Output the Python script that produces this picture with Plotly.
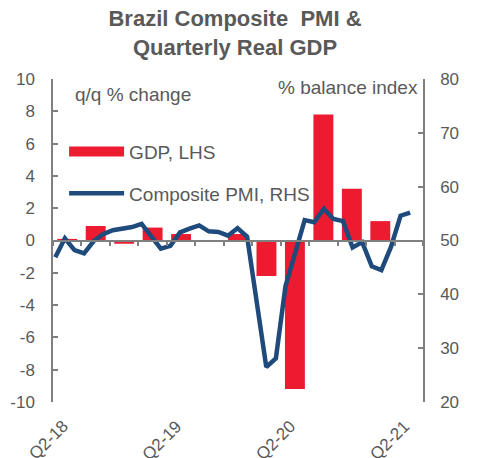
import pandas as pd
import plotly.graph_objects as go

# quarterly GDP, q/q % change (LHS)
quarters = ["Q2-18", "Q3-18", "Q4-18", "Q1-19", "Q2-19", "Q3-19", "Q4-19",
            "Q1-20", "Q2-20", "Q3-20", "Q4-20", "Q1-21", "Q2-21"]
gdp = [0.1, 0.9, -0.2, 0.8, 0.4, None, 0.4, -2.2, -9.2, 7.8, 3.2, 1.2, None]
label_quarters = ["Q2-18", "Q2-19", "Q2-20", "Q2-21"]

# monthly composite PMI (RHS)
months = list(pd.date_range("2018-05-01", periods=38, freq="MS").strftime("%b-%y"))
pmi = [46.9, 50.4, 48.2, 47.6, 49.9, 51.2, 51.9, 52.1, 52.5, 53.1,
       50.8, 48.5, 49.0, 51.5, 52.2, 52.8, 51.7, 51.6, 50.9, 52.3,
       50.7, 38.6, 26.5, 28.1, 41.5, 47.6, 53.8, 53.4, 55.9, 54.0,
       53.6, 48.7, 49.7, 45.2, 44.5, 48.8, 54.6, 55.2]

left_ticks = [-10, -8, -6, -4, -2, 0, 2, 4, 6, 8, 10]
right_ticks = [20, 30, 40, 50, 60, 70, 80]

GREY = "#808080"
TXT = "#595959"
RED = "#ED1B2F"
BLUE = "#1F4A7C"

fig = go.Figure()

fig.add_trace(go.Bar(
    x=quarters, y=gdp, name="GDP, LHS",
    marker=dict(color=RED, line=dict(width=0)),
    showlegend=False,
))
# legend key for the bars: a wide red band like the original
fig.add_trace(go.Scatter(
    x=[None], y=[None], name="GDP, LHS", mode="lines",
    line=dict(color=RED, width=10), legendgroup="a",
))

fig.add_trace(go.Scatter(
    x=months, y=pmi, name="Composite PMI, RHS",
    mode="lines", line=dict(color=BLUE, width=4.5),
    xaxis="x2", yaxis="y2", legendgroup="b",
))

# x tick labels, rotated, under the plot
for q in label_quarters:
    fig.add_annotation(
        x=q, xref="x", y=0, yref="paper", text=q, showarrow=False,
        textangle=-45, xanchor="right", yanchor="top", yshift=-12, xshift=7,
        font=dict(size=17, color=TXT),
    )

fig.add_annotation(x=0.054, y=0.953, xref="paper", yref="paper",
                   text="q/q % change", showarrow=False,
                   xanchor="left", yanchor="middle",
                   font=dict(size=19, color=TXT))
fig.add_annotation(x=0.993, y=0.975, xref="paper", yref="paper",
                   text="% balance index", showarrow=False,
                   xanchor="right", yanchor="middle",
                   font=dict(size=19, color=TXT))

# the page body adds an 8px margin, so the figure is 8px smaller
fig.update_layout(
    width=470, height=450,
    margin=dict(l=45, r=55, t=71, b=56, autoexpand=False),
    paper_bgcolor="white", plot_bgcolor="white",
    font=dict(family="Liberation Sans, Arial, sans-serif", color=TXT),
    title=dict(text="Brazil Composite\u00a0 PMI &<br>Quarterly Real GDP",
               x=0.483, xref="container", xanchor="center",
               y=0.96, yref="container", yanchor="top",
               font=dict(size=22, color=TXT, family="Liberation Sans, Arial, sans-serif", weight="bold")),
    bargap=0.3,
    showlegend=True,
    legend=dict(x=0.03, y=0.834, xanchor="left", yanchor="top",
                bgcolor="rgba(0,0,0,0)", font=dict(size=19, color=TXT),
                itemwidth=55, traceorder="grouped", tracegroupgap=14),
    xaxis=dict(type="category", range=[-0.5, 12.5], anchor="free", position=0.5,
               showline=True, linecolor=GREY, linewidth=1.5,
               ticks="outside", tickson="boundaries", ticklen=5, tickcolor=GREY,
               tickwidth=1.5, showticklabels=False, showgrid=False, zeroline=False,
               automargin=False),
    xaxis2=dict(type="category", range=[-0.24, 38.34], overlaying="x",
                anchor="y2", visible=False, automargin=False),
    yaxis=dict(range=[-10, 10], tickmode="array", tickvals=left_ticks,
               ticktext=[str(v) for v in left_ticks],
               showline=True, linecolor=GREY,
               linewidth=1.5, ticks="inside", ticklen=5, tickcolor=GREY,
               tickwidth=1.5, showgrid=False, zeroline=False, automargin=False,
               tickfont=dict(size=17, color=TXT), ticklabelstandoff=13),
    yaxis2=dict(range=[20, 80], tickmode="array", tickvals=right_ticks,
                ticktext=[str(v) for v in right_ticks],
                overlaying="y", side="right",
                anchor="x", showline=True, linecolor=GREY, linewidth=1.5,
                ticks="inside", ticklen=5, tickcolor=GREY, tickwidth=1.5,
                showgrid=False, zeroline=False, automargin=False,
                tickfont=dict(size=17, color=TXT), ticklabelstandoff=12),
)

fig.write_html("out.html")
